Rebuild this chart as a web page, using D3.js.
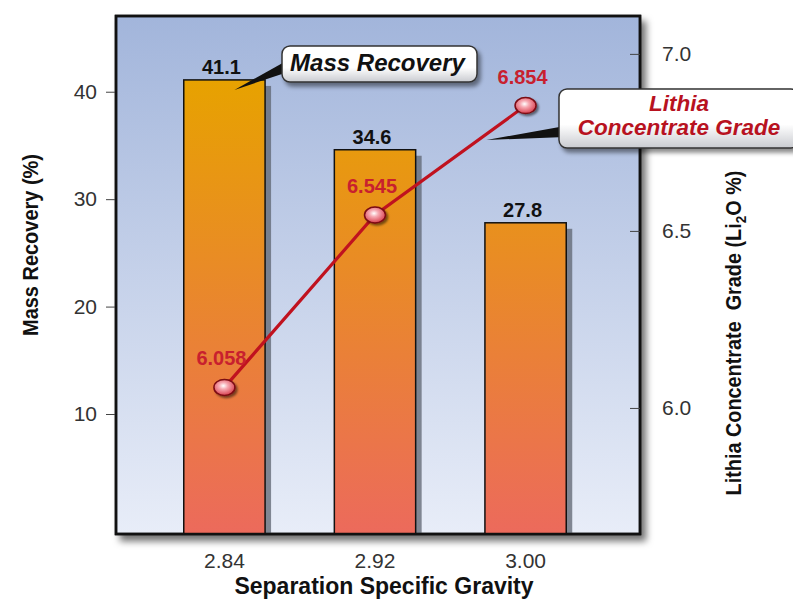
<!DOCTYPE html>
<html>
<head>
<meta charset="utf-8">
<script src="https://cdn.jsdelivr.net/npm/d3@7"></script>
<style>
  html, body { margin: 0; padding: 0; background: #fff; }
  svg { display: block; font-family: "Liberation Sans", Arial, sans-serif; }
</style>
</head>
<body>
<svg id="chart" width="793" height="601"></svg>
<script>
// Separation specific gravity categories
const gravity = ["2.84", "2.92", "3.00"];
// Mass recovery (%) — bars, left axis
const massRecovery = [41.1, 34.6, 27.8];
// Lithia concentrate grade (Li2O %) — line, right axis
const lithiaGrade = [6.058, 6.545, 6.854];
// Axis tick values
const leftTicks = [10, 20, 30, 40];
const rightTicks = [6.0, 6.5, 7.0];

const svg = d3.select("#chart");
const plot = { left: 116, top: 16, right: 640, bottom: 534 };
const FONT = "Liberation Sans, Arial, sans-serif";

const x = d3.scaleBand().domain(gravity).range([plot.left, 634])
  .paddingInner(0.46).paddingOuter(0.45);
const yL = d3.scaleLinear().domain([-1.17, 47.05]).range([plot.bottom, plot.top]);
const yR = d3.scaleLinear().domain([5.644, 7.107]).range([plot.bottom, plot.top]);

const defs = svg.append("defs");

const bg = defs.append("linearGradient").attr("id", "bgGrad")
  .attr("x1", 0).attr("y1", 0).attr("x2", 0).attr("y2", 1);
bg.append("stop").attr("offset", "0%").attr("stop-color", "#a2b5db");
bg.append("stop").attr("offset", "100%").attr("stop-color", "#e8edf8");

const barG = defs.append("linearGradient").attr("id", "barGrad")
  .attr("gradientUnits", "userSpaceOnUse")
  .attr("x1", 0).attr("y1", yL(41.1)).attr("x2", 0).attr("y2", plot.bottom);
barG.append("stop").attr("offset", "0%").attr("stop-color", "#e7a200");
barG.append("stop").attr("offset", "100%").attr("stop-color", "#ec6a5c");

const boxG = defs.append("linearGradient").attr("id", "boxGrad")
  .attr("x1", 0).attr("y1", 0).attr("x2", 0).attr("y2", 1);
boxG.append("stop").attr("offset", "0%").attr("stop-color", "#ffffff");
boxG.append("stop").attr("offset", "60%").attr("stop-color", "#ffffff");
boxG.append("stop").attr("offset", "100%").attr("stop-color", "#c9cbd0");

const dotG = defs.append("radialGradient").attr("id", "dotGrad")
  .attr("cx", "45%").attr("cy", "40%").attr("r", "60%");
dotG.append("stop").attr("offset", "0%").attr("stop-color", "#ffffff");
dotG.append("stop").attr("offset", "35%").attr("stop-color", "#f6a9b2");
dotG.append("stop").attr("offset", "100%").attr("stop-color", "#d8404f");

const sh = defs.append("filter").attr("id", "frameShadow")
  .attr("x", "-5%").attr("y", "-5%").attr("width", "115%").attr("height", "115%");
sh.append("feDropShadow").attr("dx", 5).attr("dy", 6).attr("stdDeviation", 3.5)
  .attr("flood-color", "#000").attr("flood-opacity", 0.55);

const sh2 = defs.append("filter").attr("id", "boxShadow")
  .attr("x", "-10%").attr("y", "-20%").attr("width", "130%").attr("height", "160%");
sh2.append("feDropShadow").attr("dx", 3).attr("dy", 4).attr("stdDeviation", 2)
  .attr("flood-color", "#000").attr("flood-opacity", 0.45);

const sh3 = defs.append("filter").attr("id", "dotShadow")
  .attr("x", "-50%").attr("y", "-50%").attr("width", "200%").attr("height", "200%");
sh3.append("feDropShadow").attr("dx", 2).attr("dy", 2).attr("stdDeviation", 1)
  .attr("flood-color", "#000").attr("flood-opacity", 0.5);

// Plot frame with shaded background
svg.append("rect")
  .attr("x", plot.left).attr("y", plot.top)
  .attr("width", plot.right - plot.left).attr("height", plot.bottom - plot.top)
  .attr("fill", "url(#bgGrad)").attr("stroke", "#111").attr("stroke-width", 2.5)
  .attr("filter", "url(#frameShadow)");

// Bar shadows
svg.append("g").selectAll("rect").data(massRecovery).join("rect")
  .attr("x", (d, i) => x(gravity[i]) + 6)
  .attr("y", d => yL(d) + 6)
  .attr("width", x.bandwidth())
  .attr("height", d => plot.bottom - 1 - (yL(d) + 6))
  .attr("fill", "#5d6470").attr("opacity", 0.75);

// Bars
svg.append("g").selectAll("rect").data(massRecovery).join("rect")
  .attr("x", (d, i) => x(gravity[i]))
  .attr("y", d => yL(d))
  .attr("width", x.bandwidth())
  .attr("height", d => plot.bottom - yL(d))
  .attr("fill", "url(#barGrad)").attr("stroke", "#111").attr("stroke-width", 1.5);

// Frame border redrawn over bar bases
svg.append("rect")
  .attr("x", plot.left).attr("y", plot.top)
  .attr("width", plot.right - plot.left).attr("height", plot.bottom - plot.top)
  .attr("fill", "none").attr("stroke", "#111").attr("stroke-width", 2.5);

// Bar value labels
svg.append("g").selectAll("text").data(massRecovery).join("text")
  .attr("x", (d, i) => x(gravity[i]) + x.bandwidth() / 2 - 3)
  .attr("y", d => yL(d) - 6)
  .attr("text-anchor", "middle").attr("font-size", 20).attr("font-weight", "bold")
  .attr("fill", "#111").text(d => d.toFixed(1));

// Left axis
const leftAxis = d3.axisLeft(yL).tickValues(leftTicks).tickSize(9).tickPadding(9)
  .tickFormat(d3.format("d"));
const gL = svg.append("g").attr("transform", `translate(${plot.left - 1},0)`).call(leftAxis);
gL.select(".domain").remove();
gL.selectAll("line").attr("stroke", "#444");
gL.selectAll("text").attr("font-size", 21).attr("fill", "#333").attr("font-family", FONT);

// Right axis: ticks point inward
const rightAxis = d3.axisRight(yR).tickValues(rightTicks).tickSizeInner(-10).tickSizeOuter(0)
  .tickPadding(22).tickFormat(d3.format(".1f"));
const gR = svg.append("g").attr("transform", `translate(${plot.right},0)`).call(rightAxis);
gR.select(".domain").remove();
gR.selectAll("line").attr("stroke", "#444");
gR.selectAll("text").attr("font-size", 21).attr("fill", "#333").attr("font-family", FONT);

// Bottom axis labels
const bottomAxis = d3.axisBottom(x).tickSize(0).tickPadding(19);
const gB = svg.append("g").attr("transform", `translate(0,${plot.bottom})`).call(bottomAxis);
gB.select(".domain").remove();
gB.selectAll("text").attr("font-size", 21).attr("fill", "#333").attr("font-family", FONT);

// Axis titles
svg.append("text")
  .attr("transform", "translate(38,245) rotate(-90)")
  .attr("text-anchor", "middle").attr("font-size", 22).attr("font-weight", "bold")
  .attr("textLength", 182).attr("lengthAdjust", "spacingAndGlyphs")
  .attr("fill", "#111").text("Mass Recovery (%)");

const rt = svg.append("text")
  .attr("transform", "translate(741,333) rotate(-90)")
  .attr("text-anchor", "middle").attr("font-size", 22).attr("font-weight", "bold")
  .attr("fill", "#111");
rt.append("tspan").text("Lithia Concentrate\u00a0 Grade (Li");
rt.append("tspan").attr("font-size", 15).attr("dy", 5).text("2");
rt.append("tspan").attr("dy", -5).text("O %)");
// condense the right title to its drawn length
{
  const full = rt.node().getComputedTextLength();
  const s = 325 / full;
  rt.attr("transform", `translate(741,333) rotate(-90) scale(${s},1)`);
}

svg.append("text")
  .attr("x", 384).attr("y", 594)
  .attr("text-anchor", "middle").attr("font-size", 23).attr("font-weight", "bold")
  .attr("fill", "#111").text("Separation Specific Gravity");

// Lithia grade line points
const pts = lithiaGrade.map((v, i) => [x(gravity[i]) + x.bandwidth() / 2, yR(v)]);

// Callout: Mass Recovery (pointer to first bar top)
const mTip = [pts[0][0] + 10, yL(massRecovery[0]) + 10];
const mBox = { x: 282, y: 46, w: 195, h: 36 };
svg.append("path")
  .attr("d", `M${mTip[0]},${mTip[1]} L${mBox.x + 6},${mBox.y + 14} L${mBox.x + 6},${mBox.y + 26} Z`)
  .attr("fill", "#111");
svg.append("rect")
  .attr("x", mBox.x).attr("y", mBox.y).attr("width", mBox.w).attr("height", mBox.h)
  .attr("rx", 8).attr("fill", "url(#boxGrad)").attr("stroke", "#333").attr("stroke-width", 1.5)
  .attr("filter", "url(#boxShadow)");
svg.append("text")
  .attr("x", mBox.x + mBox.w / 2 - 2).attr("y", mBox.y + 25)
  .attr("text-anchor", "middle").attr("font-size", 24).attr("font-weight", "bold")
  .attr("font-style", "italic").attr("fill", "#111").text("Mass Recovery");

// Lithia grade line
svg.append("path")
  .attr("d", d3.line()(pts))
  .attr("fill", "none").attr("stroke", "#c0121f").attr("stroke-width", 3.2);

// Callout: Lithia Concentrate Grade (pointer to line segment)
const t = 0.74;
const lTip = [pts[1][0] + t * (pts[2][0] - pts[1][0]), pts[1][1] + t * (pts[2][1] - pts[1][1]) + 6];
const lBox = { x: 559, y: 89, w: 240, h: 59 };
svg.append("path")
  .attr("d", `M${lTip[0]},${lTip[1]} L${lBox.x + 6},${lBox.y + 37} L${lBox.x + 6},${lBox.y + 48} Z`)
  .attr("fill", "#111");
svg.append("rect")
  .attr("x", lBox.x).attr("y", lBox.y).attr("width", lBox.w).attr("height", lBox.h)
  .attr("rx", 8).attr("fill", "url(#boxGrad)").attr("stroke", "#333").attr("stroke-width", 1.5)
  .attr("filter", "url(#boxShadow)");
const lt = svg.append("text")
  .attr("text-anchor", "middle").attr("font-size", 22.5).attr("font-weight", "bold")
  .attr("font-style", "italic").attr("fill", "#b8121f");
lt.append("tspan").attr("x", 679).attr("y", lBox.y + 22).text("Lithia");
lt.append("tspan").attr("x", 679).attr("y", lBox.y + 46).text("Concentrate Grade");

// Markers
svg.append("g").selectAll("ellipse").data(pts).join("ellipse")
  .attr("cx", d => d[0]).attr("cy", d => d[1])
  .attr("rx", 10.5).attr("ry", 8)
  .attr("fill", "url(#dotGrad)").attr("stroke", "#7a0a12").attr("stroke-width", 1.5)
  .attr("filter", "url(#dotShadow)");

// Grade value labels
svg.append("g").selectAll("text").data(lithiaGrade).join("text")
  .attr("x", (d, i) => pts[i][0] - 3)
  .attr("y", (d, i) => pts[i][1] - 22)
  .attr("text-anchor", "middle").attr("font-size", 20).attr("font-weight", "bold")
  .attr("fill", "#c8202e").text(d => d.toFixed(3));
</script>
</body>
</html>
